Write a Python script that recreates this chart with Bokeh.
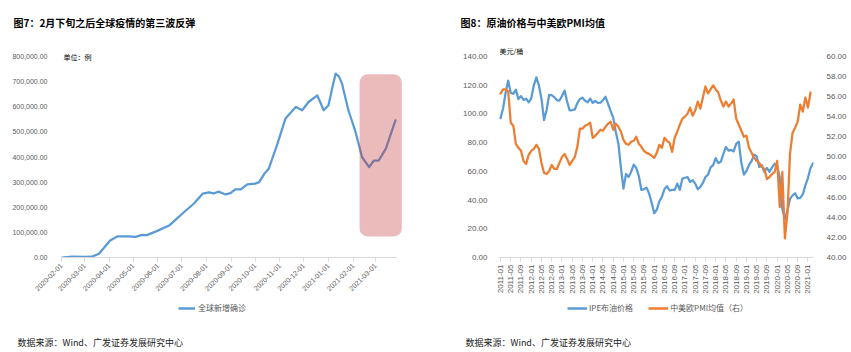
import math
import pandas as pd
from bokeh.plotting import figure
from bokeh.models import (Range1d, LinearAxis, FixedTicker, NumeralTickFormatter,
                          DatetimeTickFormatter, BoxAnnotation, Label, Legend, LegendItem)
from bokeh.layouts import row, column
from bokeh.embed import file_html
from bokeh.resources import INLINE

# ---------------- data: chart 7 (global new confirmed cases) ----------------
covid_dates = ["2020-02-01", "2020-02-14", "2020-03-02", "2020-03-10", "2020-03-19",
               "2020-04-02", "2020-04-11", "2020-04-25", "2020-05-04", "2020-05-12",
               "2020-05-18", "2020-05-29", "2020-06-15", "2020-06-23", "2020-07-06",
               "2020-07-16", "2020-07-27", "2020-08-04", "2020-08-10", "2020-08-16",
               "2020-08-25", "2020-08-31", "2020-09-06", "2020-09-13", "2020-09-21",
               "2020-10-01", "2020-10-06", "2020-10-12", "2020-10-18", "2020-10-29",
               "2020-11-08", "2020-11-21", "2020-11-29", "2020-12-07", "2020-12-18",
               "2020-12-26", "2021-01-01", "2021-01-06", "2021-01-10", "2021-01-14",
               "2021-01-18", "2021-01-22", "2021-01-26", "2021-02-04", "2021-02-12",
               "2021-02-21", "2021-02-27", "2021-03-05", "2021-03-14", "2021-03-26"]
covid_cases = [0, 3000, 2000, 3000, 15000,
               68000, 84000, 84000, 82000, 90000,
               89000, 103000, 127000, 150000, 187000,
               214000, 254000, 259000, 255000, 262000,
               251000, 256000, 271000, 271000, 291000,
               294000, 300000, 331000, 353000, 453000,
               553000, 599000, 586000, 619000, 645000,
               586000, 606000, 679000, 732000, 721000,
               692000, 638000, 586000, 499000, 400000,
               360000, 386000, 386000, 433000, 546000]
covid_tick_labels = ["2020-02-01", "2020-03-01", "2020-04-01", "2020-05-01", "2020-06-01",
                     "2020-07-01", "2020-08-01", "2020-09-01", "2020-10-01", "2020-11-01",
                     "2020-12-01", "2021-01-01", "2021-02-01", "2021-03-01"]
covid_y_ticks = [0, 100000, 200000, 300000, 400000, 500000, 600000, 700000, 800000]
highlight_x = ["2021-02-09", "2021-04-03"]
highlight_y = [84000, 729000]

# ---------------- data: chart 8 (Brent & PMI, monthly from 2011-01) ----------------
brent = [96.9, 103.7, 114.6, 123.1, 114.5, 113.9, 116.7, 110.2, 112.3, 109.6, 110.5, 107.9,
         110.7, 119.7, 125.3, 119.7, 110.3, 95.6, 102.6, 113.2, 113.0, 111.5, 109.5, 109.2,
         112.3, 116.1, 108.5, 102.3, 102.6, 103.0, 107.4, 110.3, 111.2, 109.1, 107.9, 110.6,
         107.6, 108.9, 107.5, 107.7, 109.5, 111.8, 106.9, 101.9, 97.3, 87.3, 79.4, 62.3,
         48.0, 58.1, 56.0, 59.7, 64.6, 62.3, 56.5, 47.0, 47.6, 48.5, 44.5, 38.0,
         30.8, 33.2, 39.1, 42.2, 47.6, 49.6, 46.6, 47.1, 47.0, 51.4, 47.1, 54.9,
         55.5, 56.0, 52.5, 53.8, 51.4, 47.5, 49.1, 51.9, 56.0, 57.6, 62.7, 64.2,
         69.1, 65.7, 66.7, 72.1, 76.9, 74.4, 74.9, 73.8, 79.1, 80.6, 65.9, 57.7,
         60.2, 64.4, 67.0, 71.6, 70.3, 63.0, 64.2, 59.5, 62.3, 59.6, 62.7, 65.2,
         63.7, 55.7, 33.7, 26.6, 32.4, 40.8, 43.2, 44.7, 41.1, 41.5, 43.9, 50.2,
         55.3, 62.3, 65.6]
pmi = [56.3, 56.7, 56.7, 56.5, 53.4, 53.1, 51.3, 50.9, 50.6, 49.6, 49.3, 50.2,
       50.6, 50.8, 51.2, 50.8, 49.4, 48.4, 48.3, 48.6, 49.2, 48.8, 48.8, 49.4,
       50.0, 50.3, 49.8, 49.2, 49.6, 50.0, 51.0, 52.8, 52.8, 53.1, 53.2, 53.4,
       51.9, 52.1, 52.4, 52.7, 52.6, 53.0, 53.3, 53.5, 52.7, 53.3, 53.0, 52.5,
       51.7, 51.3, 51.2, 51.5, 51.6, 52.0, 51.3, 51.0, 50.6, 50.4, 50.3, 50.1,
       49.9, 50.4, 51.2, 50.9, 51.9, 51.6, 51.4, 50.5, 51.9, 52.5, 53.2, 53.8,
       54.0, 54.3, 54.9, 54.1, 54.6, 55.5, 54.8, 55.9, 57.0, 56.3, 56.7, 57.1,
       56.7, 56.4, 55.6, 55.0, 55.5, 55.0, 55.3, 55.7, 53.8, 53.2, 52.6, 52.0,
       52.1, 50.9, 50.4, 49.9, 49.6, 49.4, 49.0, 48.8, 47.8, 48.0, 48.3, 48.5,
       49.6, 45.0, 48.5, 41.9, 44.4, 50.3, 52.4, 52.9, 53.5, 55.2, 54.5, 55.9,
       54.9, 56.4]
month_tick_labels = ["2011-01", "2011-05", "2011-09", "2012-01", "2012-05", "2012-09",
                     "2013-01", "2013-05", "2013-09", "2014-01", "2014-05", "2014-09",
                     "2015-01", "2015-05", "2015-09", "2016-01", "2016-05", "2016-09",
                     "2017-01", "2017-05", "2017-09", "2018-01", "2018-05", "2018-09",
                     "2019-01", "2019-05", "2019-09", "2020-01", "2020-05", "2020-09",
                     "2021-01"]
brent_ticks = [0, 20, 40, 60, 80, 100, 120, 140]
pmi_ticks = [40, 42, 44, 46, 48, 50, 52, 54, 56, 58, 60]

titles = ["图7：2月下旬之后全球疫情的第三波反弹", "图8：原油价格与中美欧PMI均值"]
units = ["单位：例", "美元/桶"]
legend_labels = ["全球新增确诊", "IPE布油价格", "中美欧PMI均值（右）"]
source_text = "数据来源：Wind、广发证券发展研究中心"

# ---------------- styles / geometry ----------------
BLUE = "#5B9BD5"
ORANGE = "#ED7D31"
GREY_TXT = "#595959"
AXIS_GREY = "#d9d9d9"
CJK = "Noto Sans CJK SC"
LAT = "Liberation Sans"
DAY = 86400000.0
W = 851
HEAD_H, MAIN_H, FOOT_H = 44, 258, 50
FRAME_TOP = 48          # canvas y of plot frame top (both charts)


def to_ms(s):
    return (pd.Timestamp(s) - pd.Timestamp("1970-01-01")) / pd.Timedelta(milliseconds=1)


def style_axis(ax, size):
    ax.major_label_text_font = LAT
    ax.major_label_text_font_size = size
    ax.major_label_text_color = GREY_TXT
    ax.minor_tick_line_color = None


def blank(width, height):
    f = figure(width=width, height=height, output_backend="svg", toolbar_location=None,
               x_range=Range1d(0, width), y_range=Range1d(0, height), min_border=0,
               x_axis_location=None, y_axis_location=None)
    f.outline_line_color = None
    f.grid.visible = False
    f.background_fill_color = "white"
    f.border_fill_color = "white"
    return f


def text(f, x, y_from_top, s, size, color="#000000", bold=False):
    lab = Label(x=x, y=f.height - y_from_top, x_units="screen", y_units="screen", text=s,
                text_font=CJK, text_font_size=size, text_color=color,
                text_align="left", text_baseline="middle")
    if bold:
        lab.text_font_style = "bold"
    f.add_layout(lab)


# ================= header =================
head = blank(W, HEAD_H)
text(head, 13, 22, titles[0], "10px", bold=True)
text(head, 460, 22, titles[1], "10px", bold=True)

# ================= left chart =================
W1 = 425
FL1, FR1, FB1 = 61, 404, 257
Y0_1, YTOP_1 = 257, 56          # canvas y of 0 and 800,000
px_day = 0.797
x0 = to_ms(covid_tick_labels[0])
x_end = x0 + (FR1 - FL1) / px_day * DAY
axis_end = x0 + (396 - FL1) / px_day * DAY
y_top1 = covid_y_ticks[-1] * (Y0_1 - FRAME_TOP) / (Y0_1 - YTOP_1)

p1 = figure(width=W1, height=MAIN_H, x_axis_type="datetime", output_backend="svg",
            toolbar_location=None, x_range=Range1d(x0, x_end), y_range=Range1d(0, y_top1),
            min_border_left=FL1, min_border_right=W1 - FR1,
            min_border_top=FRAME_TOP - HEAD_H, min_border_bottom=HEAD_H + MAIN_H - FB1)
p1.outline_line_color = None
p1.grid.visible = False
p1.background_fill_color = "white"
p1.border_fill_color = "white"

r1 = p1.line([to_ms(d) for d in covid_dates], covid_cases, line_color=BLUE, line_width=2.25,
             line_join="round", line_cap="round")

hx = [to_ms(d) for d in highlight_x]
p1.add_layout(BoxAnnotation(left=hx[0], right=hx[1], bottom=highlight_y[0], top=highlight_y[1],
                            fill_color=(195, 45, 45), fill_alpha=0.33, line_color=None,
                            border_radius=8))

ya = p1.yaxis[0]
style_axis(ya, "7px")
ya.ticker = FixedTicker(ticks=covid_y_ticks)
ya.formatter = NumeralTickFormatter(format="0,0.00")
ya.axis_line_color = None
ya.major_tick_line_color = None
ya.major_label_standoff = 8

xa = p1.xaxis[0]
style_axis(xa, "7px")
xa.ticker = FixedTicker(ticks=[to_ms(t) for t in covid_tick_labels])
xa.formatter = DatetimeTickFormatter(days="%Y-%m-%d", months="%Y-%m-%d", years="%Y-%m-%d")
xa.major_label_orientation = math.pi / 4
xa.axis_line_color = AXIS_GREY
xa.major_tick_line_color = AXIS_GREY
xa.major_tick_in = 0
xa.major_tick_out = 4
xa.major_label_standoff = 3
xa.bounds = (x0, axis_end)

p1.add_layout(Label(x=63 - FL1, y=Y0_1 - YTOP_1, x_units="screen", y_units="screen",
                    text=units[0], text_font=CJK, text_font_size="7px",
                    text_color="#000000", text_align="left", text_baseline="middle"))

# ================= right chart =================
W2 = 426
OX = 425
FL2, FR2, FB2 = 498 - OX, 813 - OX, 263
Y0_2, YTOP_2 = 263, 56          # canvas y of 0 and 140
px_month = 2.562
m_start = (FL2 - (500 - OX)) / px_month      # month index at the frame's left edge
m_end = m_start + (FR2 - FL2) / px_month
frac = (Y0_2 - FRAME_TOP) / (Y0_2 - YTOP_2)
y_top2 = brent_ticks[-1] * frac
pmi_top = pmi_ticks[0] + (pmi_ticks[-1] - pmi_ticks[0]) * frac

p2 = figure(width=W2, height=MAIN_H, output_backend="svg", toolbar_location=None,
            x_range=Range1d(m_start, m_end), y_range=Range1d(0, y_top2),
            min_border_left=FL2, min_border_right=W2 - FR2,
            min_border_top=FRAME_TOP - HEAD_H, min_border_bottom=HEAD_H + MAIN_H - FB2)
p2.outline_line_color = None
p2.grid.visible = False
p2.background_fill_color = "white"
p2.border_fill_color = "white"
p2.extra_y_ranges = {"pmi": Range1d(pmi_ticks[0], pmi_top)}

rb = p2.line(list(range(len(brent))), brent, line_color=BLUE, line_width=2.25,
             line_join="round", line_cap="round")
ro = p2.line(list(range(len(pmi))), pmi, line_color=ORANGE, line_width=2.25,
             line_join="round", line_cap="round", y_range_name="pmi")

ya2 = p2.yaxis[0]
style_axis(ya2, "8px")
ya2.ticker = FixedTicker(ticks=brent_ticks)
ya2.formatter = NumeralTickFormatter(format="0.00")
ya2.axis_line_color = None
ya2.major_tick_line_color = None
ya2.major_label_standoff = 5

yr = LinearAxis(y_range_name="pmi")
style_axis(yr, "8px")
yr.ticker = FixedTicker(ticks=pmi_ticks)
yr.formatter = NumeralTickFormatter(format="0.00")
yr.axis_line_color = None
yr.major_tick_line_color = None
yr.major_label_standoff = 7
p2.add_layout(yr, "right")

xa2 = p2.xaxis[0]
style_axis(xa2, "8px")
tick_pos = [4 * i for i in range(len(month_tick_labels))]
xa2.ticker = FixedTicker(ticks=tick_pos)
xa2.major_label_overrides = {t: lab for t, lab in zip(tick_pos, month_tick_labels)}
xa2.major_label_orientation = math.pi / 2
xa2.axis_line_color = AXIS_GREY
xa2.major_tick_line_color = AXIS_GREY
xa2.major_tick_in = 0
xa2.major_tick_out = 4
xa2.major_label_standoff = 3

p2.add_layout(Label(x=499 - OX - FL2, y=Y0_2 - YTOP_2, x_units="screen", y_units="screen",
                    text=units[1], text_font=CJK, text_font_size="7px",
                    text_color="#000000", text_align="left", text_baseline="middle"))

# ================= footer (legends + source) =================
foot = blank(W, FOOT_H)
nan = float("nan")
fb = foot.line(x=[nan], y=[nan], line_color=BLUE, line_width=2.5)
fo = foot.line(x=[nan], y=[nan], line_color=ORANGE, line_width=2.5)
leg_y = FOOT_H - (308 - (HEAD_H + MAIN_H)) - 5
leg_common = dict(orientation="horizontal", glyph_height=10, label_height=10,
                  padding=0, margin=0, border_line_color=None, background_fill_alpha=0,
                  label_text_font=CJK, label_text_font_size="8px", label_text_color=GREY_TXT)
foot.add_layout(Legend(items=[LegendItem(label=legend_labels[0], renderers=[fb])],
                       location=(178, leg_y), glyph_width=17, label_standoff=3, **leg_common))
foot.add_layout(Legend(items=[LegendItem(label=legend_labels[1], renderers=[fb]),
                              LegendItem(label=legend_labels[2], renderers=[fo])],
                       location=(567, leg_y), glyph_width=20, label_standoff=2, spacing=15,
                       **leg_common))
src_y = 342 - (HEAD_H + MAIN_H)
text(foot, 17, src_y, source_text, "9px", color="#222222")
text(foot, 465, src_y, source_text, "9px", color="#222222")

layout = column(head, row(p1, p2), foot)
open("out.html", "w").write(file_html(layout, INLINE))
